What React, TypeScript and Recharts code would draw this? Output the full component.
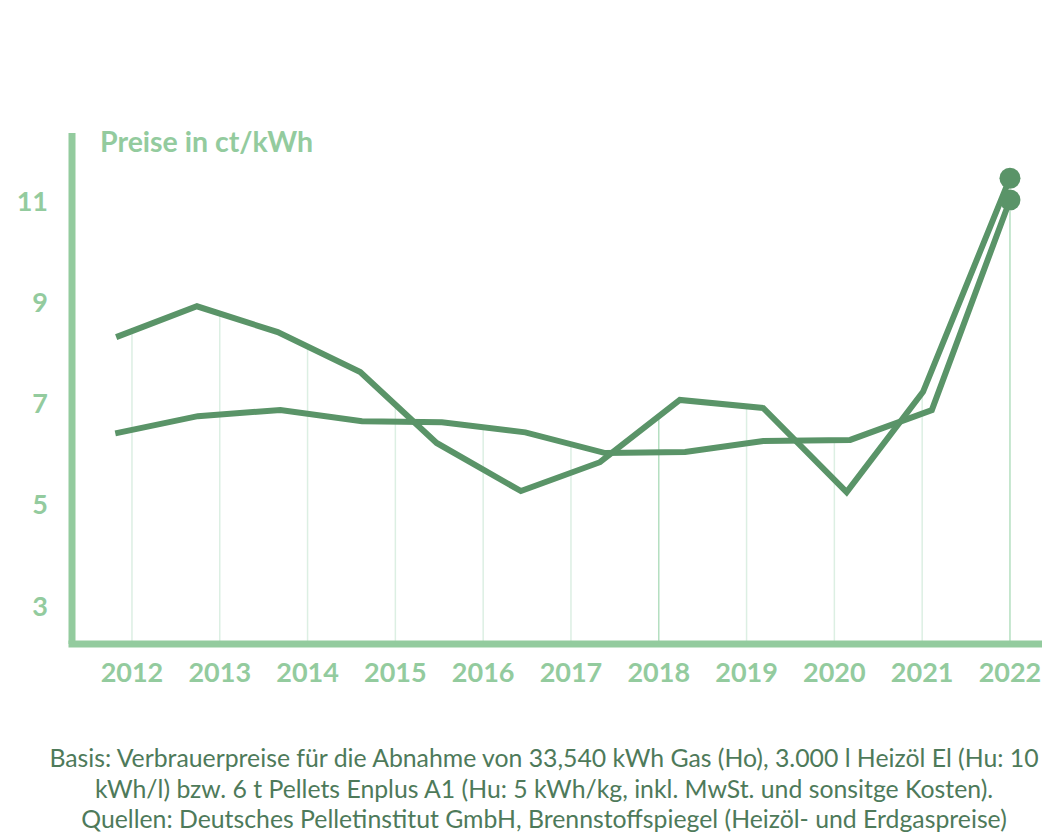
import { ComposedChart, Line, XAxis, YAxis, ReferenceLine } from "recharts";

// horizontal positions (in years) of the points, as they sit in the picture
const pelletX = [2011.82, 2012.74, 2013.66, 2014.6, 2015.47, 2016.43, 2017.33, 2018.24, 2019.19, 2020.14, 2021.01, 2022.0];
const pelletY = [8.31, 8.92, 8.41, 7.62, 6.22, 5.27, 5.84, 7.07, 6.91, 5.25, 7.23, 11.45];

const gasX = [2011.81, 2012.75, 2013.69, 2014.62, 2015.53, 2016.48, 2017.39, 2018.3, 2019.19, 2020.18, 2021.11, 2022.0];
const gasY = [6.41, 6.75, 6.87, 6.65, 6.63, 6.43, 6.02, 6.04, 6.26, 6.28, 6.87, 11.02];

const years = [2012, 2013, 2014, 2015, 2016, 2017, 2018, 2019, 2020, 2021, 2022];
// where each faint year line starts (under the upper curve)
const dropTop = [8.43, 8.77, 8.11, 6.97, 6.54, 6.2, 6.73, 6.95, 6.28, 7.2, 10.8];
const yTicks = [3, 5, 7, 9, 11];

const footnote = [
  "Basis: Verbrauerpreise für die Abnahme von 33,540 kWh Gas (Ho), 3.000 l Heizöl El (Hu: 10",
  "kWh/l) bzw. 6 t Pellets Enplus A1 (Hu: 5 kWh/kg, inkl. MwSt. und sonsitge Kosten).",
  "Quellen: Deutsches Pelletinstitut GmbH, Brennstoffspiegel (Heizöl- und Erdgaspreise)",
];

const LIGHT = "#93cb9e";
const DARK = "#5a9468";
const FONT = "Lato, 'Noto Sans', sans-serif";

const pelletData = pelletX.map((x, i) => ({ x, v: pelletY[i] }));
const gasData = gasX.map((x, i) => ({ x, v: gasY[i] }));

function endDot(last: number) {
  return (props: any) => {
    if (props.index !== last) return <g key={props.index} />;
    return <circle key={props.index} cx={props.cx} cy={props.cy} r={10.5} fill={DARK} />;
  };
}

export default function App() {
  return (
    <div style={{ position: "absolute", left: 0, top: 0, width: 1060, height: 837, background: "#fff" }}>
      <ComposedChart width={1060} height={700} margin={{ top: 133, right: 21.5, bottom: 6, left: 0 }}>
        <XAxis
          xAxisId="x"
          type="number"
          dataKey="x"
          domain={[2011.317, 2022.325]}
          ticks={years}
          allowDataOverflow
          tickFormatter={(v) => String(v)}
          tick={{ fill: LIGHT, fontSize: 27, fontWeight: 700, fontFamily: FONT }}
          axisLine={{ stroke: LIGHT, strokeWidth: 7, strokeLinecap: "square" }}
          tickLine={false}
          tickSize={0}
          tickMargin={19}
          height={50}
        />
        <YAxis
          yAxisId="y"
          type="number"
          domain={[2.249, 12.343]}
          ticks={yTicks}
          allowDataOverflow
          tick={{ fill: LIGHT, fontSize: 27, fontWeight: 700, fontFamily: FONT }}
          axisLine={{ stroke: LIGHT, strokeWidth: 7 }}
          tickLine={false}
          tickSize={0}
          tickMargin={24}
          width={72}
        />
        {years.map((yr, i) => (
          <ReferenceLine
            key={yr}
            xAxisId="x"
            yAxisId="y"
            segment={[{ x: yr, y: 2.249 }, { x: yr, y: dropTop[i] }]}
            stroke={yr === 2022 || yr === 2018 ? "#b4dfc0" : "#dcefe3"}
            strokeWidth={1.5}
          />
        ))}
        <Line
          xAxisId="x"
          yAxisId="y"
          data={gasData}
          dataKey="v"
          type="linear"
          stroke={DARK}
          strokeWidth={6}
          dot={endDot(gasData.length - 1)}
          activeDot={false}
          isAnimationActive={false}
        />
        <Line
          xAxisId="x"
          yAxisId="y"
          data={pelletData}
          dataKey="v"
          type="linear"
          stroke={DARK}
          strokeWidth={6}
          dot={endDot(pelletData.length - 1)}
          activeDot={false}
          isAnimationActive={false}
        />
      </ComposedChart>
      <svg width={1060} height={837} style={{ position: "absolute", left: 0, top: 0, pointerEvents: "none" }}>
        <text x={100} y={152} fill={LIGHT} fontSize={28.5} fontWeight={700} fontFamily={FONT}>
          Preise in ct/kWh
        </text>
        {footnote.map((line, i) => (
          <text key={i} x={544} y={767 + i * 30.5} textAnchor="middle" fill="#4e7a5a" fontSize={24.8} fontFamily={FONT}>
            {line}
          </text>
        ))}
      </svg>
    </div>
  );
}
